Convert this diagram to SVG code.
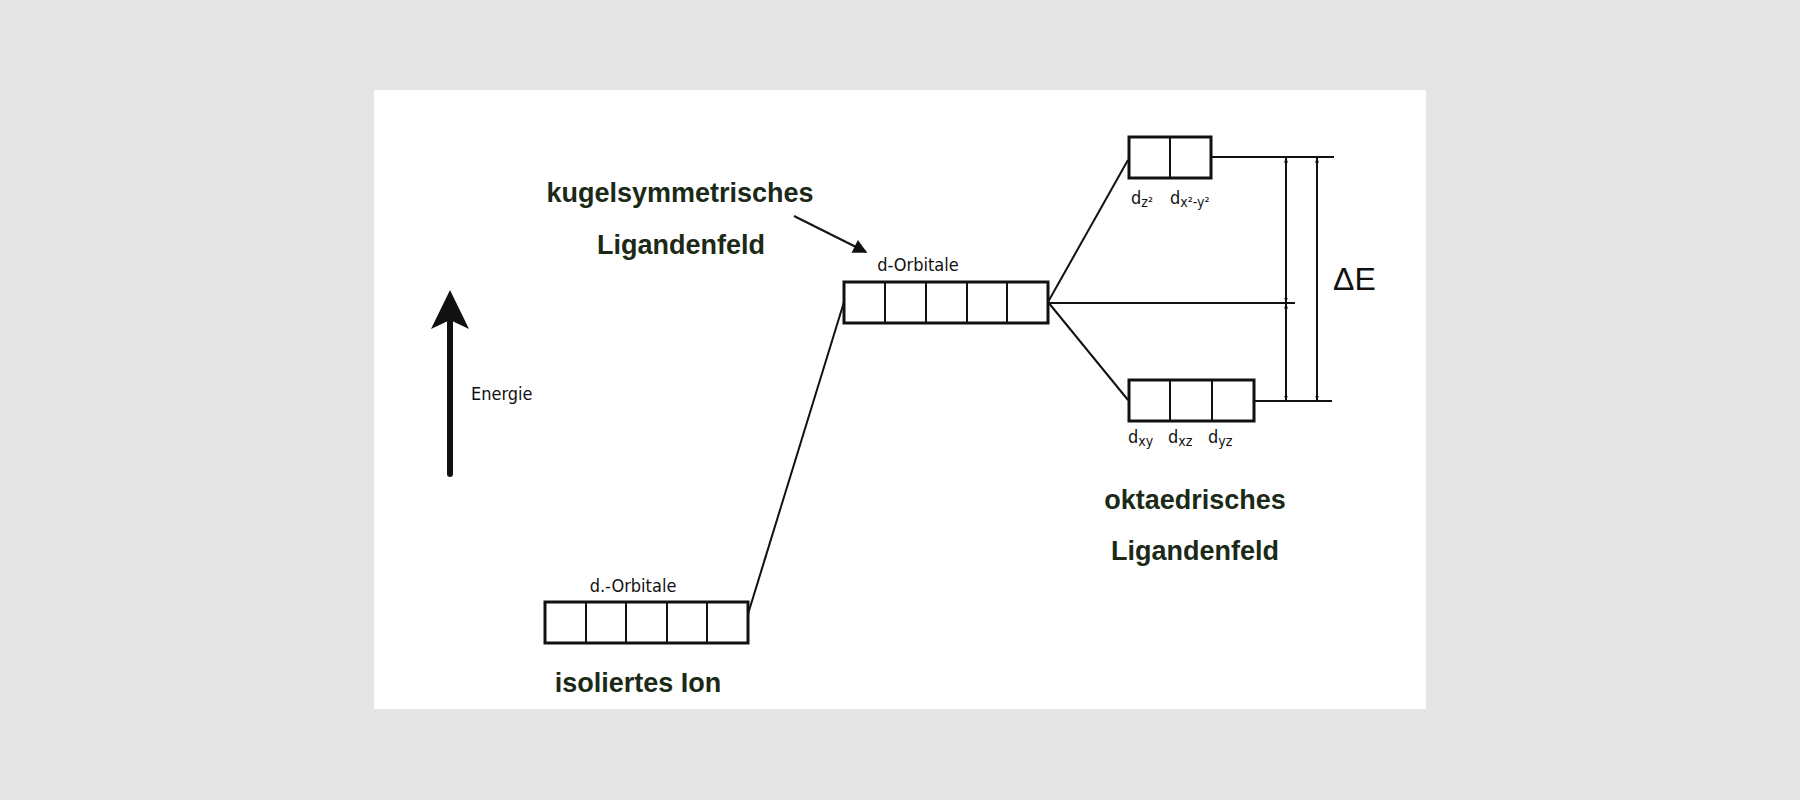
<svg xmlns="http://www.w3.org/2000/svg" width="1800" height="800" viewBox="0 0 1800 800">
<style>
.big{font-family:"Liberation Sans",Arial,sans-serif;font-weight:bold;font-size:27px;fill:#1b2a17;text-anchor:middle}
.sm{font-family:"DejaVu Sans Condensed","Liberation Sans Narrow",sans-serif;font-size:18px;fill:#111}
.sub{font-size:14px}
.box{fill:#fff;stroke:#111;stroke-width:3}
.ln{stroke:#111;stroke-width:2;fill:none}
</style>
<defs>
<marker id="ah" viewBox="0 0 10 10" refX="9" refY="5" markerWidth="5" markerHeight="8" orient="auto-start-reverse" markerUnits="userSpaceOnUse"><path d="M0,1 L10,5 L0,9 z" fill="#111"/></marker>
<marker id="ah2" viewBox="0 0 10 10" refX="9" refY="5" markerWidth="18" markerHeight="14" orient="auto" markerUnits="userSpaceOnUse"><path d="M0,0 L10,5 L0,10 z" fill="#111"/></marker>
</defs>
<rect width="1800" height="800" fill="#e5e5e5"/>
<rect x="374" y="90" width="1052" height="619" fill="#fff"/>
<g id="energie">
<line x1="450" y1="474" x2="450" y2="310" stroke="#111" stroke-width="6" stroke-linecap="round"/>
<path d="M450,290 L431,329 L450,320 L469,329 z" fill="#111"/>
<text class="sm" x="471" y="400">Energie</text>
</g>
<g id="kugel">
<text class="big" x="680" y="202">kugelsymmetrisches</text>
<text class="big" x="681" y="254">Ligandenfeld</text>
</g>
<g id="isoliert">
<text class="sm" x="633" y="592" text-anchor="middle">d.-Orbitale</text>
<rect class="box" x="545" y="602" width="203" height="41"/>
<path class="ln" d="M586,602V643M626,602V643M667,602V643M707,602V643"/>
<text class="big" x="638" y="692">isoliertes Ion</text>
</g>
<g id="kugelbox">
<text class="sm" x="918" y="271" text-anchor="middle">d-Orbitale</text>
<rect class="box" x="844" y="282" width="204" height="41"/>
<path class="ln" d="M885,282V323M926,282V323M967,282V323M1007,282V323"/>
</g>
<g id="eg">
<rect class="box" x="1129" y="137" width="82" height="41"/>
<path class="ln" d="M1170,137V178"/>
<text class="sm" x="1131" y="204">d<tspan class="sub" dy="3">z²</tspan></text>
<text class="sm" x="1170" y="204">d<tspan class="sub" dy="3">x²-y²</tspan></text>
</g>
<g id="t2g">
<rect class="box" x="1129" y="380" width="125" height="41"/>
<path class="ln" d="M1170,380V421M1212,380V421"/>
<text class="sm" x="1128" y="443">d<tspan class="sub" dy="3">xy</tspan></text>
<text class="sm" x="1168" y="443">d<tspan class="sub" dy="3">xz</tspan></text>
<text class="sm" x="1208" y="443">d<tspan class="sub" dy="3">yz</tspan></text>
</g>
<g id="okta">
<text class="big" x="1195" y="509">oktaedrisches</text>
<text class="big" x="1195" y="560">Ligandenfeld</text>
</g>
<g id="dE"><text x="1333" y="290" font-family="Liberation Sans,Arial,sans-serif" font-size="32" fill="#111">ΔE</text></g>
<g id="connectors">
<line x1="794" y1="216" x2="866" y2="252" stroke="#111" stroke-width="2" marker-end="url(#ah2)"/>
<line class="ln" x1="748" y1="614" x2="844" y2="302"/>
<line class="ln" x1="1048" y1="302" x2="1128" y2="160"/>
<line class="ln" x1="1048" y1="302" x2="1128" y2="400"/>
<line class="ln" x1="1048" y1="303" x2="1295" y2="303"/>
<line class="ln" x1="1211" y1="157" x2="1334" y2="157"/>
<line class="ln" x1="1254" y1="401" x2="1332" y2="401"/>
<line class="ln" x1="1286" y1="158" x2="1286" y2="302" marker-start="url(#ah)" marker-end="url(#ah)"/>
<line class="ln" x1="1286" y1="304" x2="1286" y2="400" marker-start="url(#ah)" marker-end="url(#ah)"/>
<line class="ln" x1="1317" y1="158" x2="1317" y2="400" marker-start="url(#ah)" marker-end="url(#ah)"/>
</g>
</svg>
